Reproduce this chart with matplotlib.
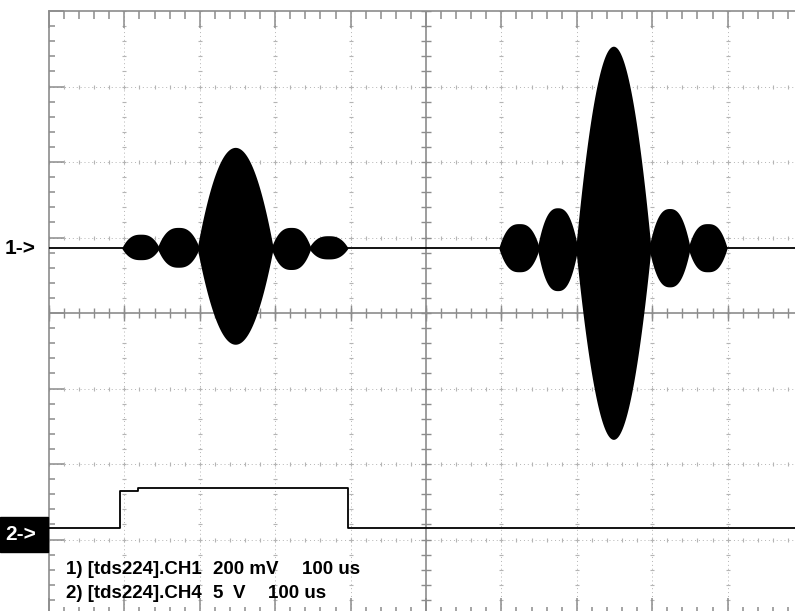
import numpy as np
import matplotlib
matplotlib.use("Agg")
import matplotlib.pyplot as plt

plt.rcParams["font.family"] = ["Liberation Sans", "DejaVu Sans"]

# screen: 10 x 8 divisions, values in divisions
CH1_BASE = 0.86
CH2_BASE = -2.85

# channel 1 bursts: start, end (div), upper / lower envelope peak (div)
burst_start = [0.98, 1.45, 1.98, 2.96, 3.46, 5.98, 6.49, 7.00, 7.97, 8.49]
burst_end = [1.45, 1.98, 2.96, 3.46, 3.95, 6.49, 7.00, 7.97, 8.49, 8.98]
burst_up = [0.17, 0.26, 1.32, 0.26, 0.15, 0.31, 0.52, 2.66, 0.51, 0.31]
burst_lo = [0.14, 0.24, 1.26, 0.27, 0.13, 0.30, 0.55, 2.52, 0.50, 0.30]
# envelope roundness (1 - |u|**p)
burst_p = [2.7, 2.6, 2.0, 2.6, 2.7, 2.7, 2.5, 1.9, 2.5, 2.7]

# channel 2 pulse (div)
ch2_x = [0.0, 0.94, 0.94, 1.18, 1.18, 3.97, 3.97, 10.0]
ch2_y = [-2.85, -2.85, -2.36, -2.36, -2.32, -2.32, -2.85, -2.85]

# status text, split in the columns used on the scope screen
legend_rows = [
    [(66, "1) [tds224].CH1"), (213, "200 mV"), (302, "100 us")],
    [(66, "2) [tds224].CH4"), (212, "5"), (233, "V"), (268, "100 us")],
]

W, H = 795, 611
fig = plt.figure(figsize=(W / 100, H / 100), dpi=100)
fig.patch.set_facecolor("white")
# axes box: left 49px, top 11px, 75.4 px per division (right/bottom off-image)
ax = fig.add_axes([49 / W, 1 - (11 + 604) / H, 754 / W, 604 / H])
ax.set_xlim(0, 10)
ax.set_ylim(-4, 4)
ax.set_facecolor("white")

gray = "#8c8c8c"
for s in ax.spines.values():
    s.set_color(gray)
    s.set_linewidth(1.2)

ax.set_xticks(np.arange(0, 11, 1))
ax.set_yticks(np.arange(-4, 5, 1))
ax.set_xticks(np.arange(0, 10.01, 0.2), minor=True)
ax.set_yticks(np.arange(-4, 4.01, 0.2), minor=True)
ax.tick_params(which="both", direction="in", color=gray, width=1.1,
               labelbottom=False, labelleft=False, top=True, right=False)
ax.tick_params(axis="x", which="major", length=12)
ax.tick_params(axis="x", which="minor", length=6)
ax.tick_params(axis="y", which="major", length=11)
ax.tick_params(axis="y", which="minor", length=4)

# dotted grid
grid_c = "#b4b4b4"
for gx in range(1, 10):
    if gx != 5:
        ax.axvline(gx, color=grid_c, lw=0.7, ls=(0, (1, 3)), zorder=1)
        ax.plot(np.full(41, gx), np.arange(-4, 4.01, 0.2), ls="none",
                marker="_", ms=3, mew=0.8, color=grid_c, zorder=1)
for gy in range(-3, 4):
    if gy != 0:
        ax.axhline(gy, color=grid_c, lw=0.7, ls=(0, (1, 3)), zorder=1)
        ax.plot(np.arange(0, 10.01, 0.2), np.full(51, gy), ls="none",
                marker="|", ms=3, mew=0.8, color=grid_c, zorder=1)

# centre crosshair with graticule marks
ax.axhline(0, color=gray, lw=1.2, zorder=2)
ax.axvline(5, color=gray, lw=1.2, zorder=2)
mx = np.arange(0, 10.01, 0.2)
my = np.arange(-4, 4.01, 0.2)
ax.plot(mx, np.zeros_like(mx), ls="none", marker="|", ms=7, mew=1.0,
        color=gray, zorder=2)
ax.plot(np.full_like(my, 5), my, ls="none", marker="_", ms=7, mew=1.0,
        color=gray, zorder=2)
ax.plot(np.arange(0, 11, 1), np.zeros(11), ls="none", marker="|", ms=12,
        mew=1.0, color=gray, zorder=2)

# channel 1
ax.plot([0, 10], [CH1_BASE, CH1_BASE], color="black", lw=1.3, zorder=3)
for x0, x1, up, lo, p in zip(burst_start, burst_end, burst_up, burst_lo,
                             burst_p):
    xs = np.linspace(x0, x1, 120)
    mid = (x0 + x1) / 2
    u = np.abs((xs - mid) / ((x1 - x0) / 2))
    env = np.clip(1 - u ** p, 0, None)
    ax.fill_between(xs, CH1_BASE - lo * env, CH1_BASE + up * env,
                    color="black", lw=1.5, ec="black", zorder=4)

# channel 2
ax.plot(ch2_x, ch2_y, color="black", lw=1.3, zorder=3)

# channel markers
fig.text(5 / W, 1 - 249 / H, "1->", fontsize=15, fontweight="bold",
         color="black", ha="left", va="center")
fig.patches.append(plt.Rectangle((0, 1 - 552 / H), 48 / W, 35 / H,
                                 transform=fig.transFigure, color="black"))
fig.text(5 / W, 1 - 534 / H, "2->", fontsize=15, fontweight="bold",
         color="white", ha="left", va="center")

for i, row in enumerate(legend_rows):
    for px, s in row:
        fig.text(px / W, 1 - (569 + 24 * i) / H, s, fontsize=13.5,
                 fontweight="bold", color="black", ha="left", va="center")

fig.savefig("out.png", dpi=100)
